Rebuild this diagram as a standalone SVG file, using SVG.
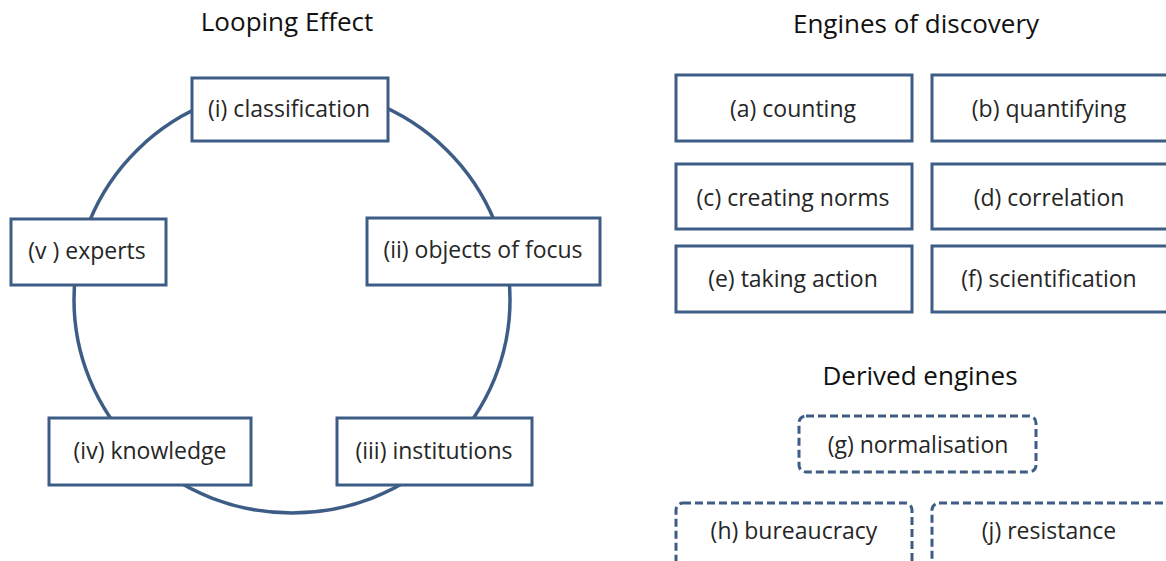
<svg xmlns="http://www.w3.org/2000/svg" width="1166" height="561" viewBox="0 0 1166 561">
<style>
.box{fill:#fff;stroke:#3e5d86;stroke-width:3}
.dash{fill:#fff;stroke:#3e5d86;stroke-width:3;stroke-dasharray:8 4}
.t{font-family:"Open Sans","Liberation Sans",sans-serif;font-size:23px;fill:#262626;text-anchor:middle;dominant-baseline:central}
.h{font-family:"Open Sans","Liberation Sans",sans-serif;font-size:26px;fill:#111;text-anchor:middle;dominant-baseline:central}
.loop{fill:none;stroke:#3e5d86;stroke-width:3.5}
</style>
<rect width="1166" height="561" fill="#fff"/>
<text class="h" x="287" y="21">Looping Effect</text>
<text class="h" x="916" y="23">Engines of discovery</text>
<text class="h" x="920" y="375">Derived engines</text>
<g id="connectors">
<ellipse class="loop" cx="292" cy="300" rx="218" ry="213"/>
</g>
<g id="n_classification"><rect class="box" x="192" y="78" width="196" height="63"/><text class="t" x="289" y="108">(i) classification</text></g>
<g id="n_experts"><rect class="box" x="11" y="219" width="155" height="66"/><text class="t" x="87" y="250">(v ) experts</text></g>
<g id="n_objects"><rect class="box" x="367" y="218" width="233" height="67"/><text class="t" x="483" y="249">(ii) objects of focus</text></g>
<g id="n_knowledge"><rect class="box" x="49" y="418" width="202" height="67"/><text class="t" x="150" y="450">(iv) knowledge</text></g>
<g id="n_institutions"><rect class="box" x="337" y="418" width="195" height="67"/><text class="t" x="434" y="450">(iii) institutions</text></g>
<g id="n_a"><rect class="box" x="676" y="75" width="236" height="66"/><text class="t" x="793" y="108">(a) counting</text></g>
<g id="n_b"><rect class="box" x="932" y="75" width="240" height="66"/><text class="t" x="1049" y="108">(b) quantifying</text></g>
<g id="n_c"><rect class="box" x="676" y="164" width="236" height="65"/><text class="t" x="793" y="197">(c) creating norms</text></g>
<g id="n_d"><rect class="box" x="932" y="164" width="240" height="65"/><text class="t" x="1049" y="197">(d) correlation</text></g>
<g id="n_e"><rect class="box" x="676" y="246" width="236" height="66"/><text class="t" x="793" y="278">(e) taking action</text></g>
<g id="n_f"><rect class="box" x="932" y="246" width="240" height="66"/><text class="t" x="1049" y="278">(f) scientification</text></g>
<g id="n_g"><rect class="dash" x="799" y="416" width="237" height="56" rx="7"/><text class="t" x="918" y="444">(g) normalisation</text></g>
<g id="n_h"><rect class="dash" x="676" y="503" width="236" height="66" rx="7"/><text class="t" x="794" y="530">(h) bureaucracy</text></g>
<g id="n_j"><rect class="dash" x="932" y="503" width="240" height="66" rx="7"/><text class="t" x="1049" y="530">(j) resistance</text></g>
</svg>
